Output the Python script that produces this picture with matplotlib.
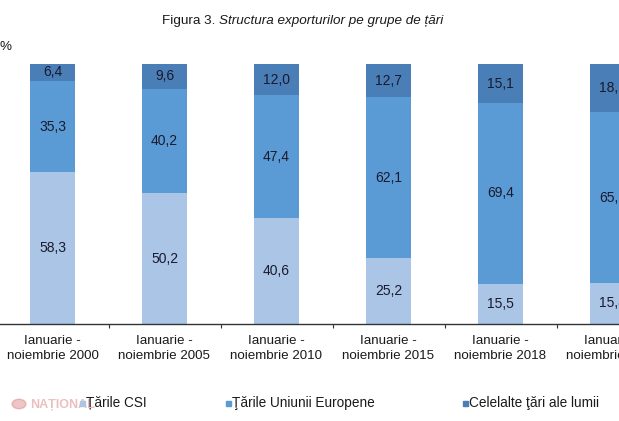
import matplotlib
matplotlib.use("Agg")
import matplotlib.pyplot as plt
from matplotlib.patches import Rectangle, Circle

plt.rcParams['font.family'] = ['Liberation Sans', 'DejaVu Sans']

categories = ["Ianuarie -\nnoiembrie 2000", "Ianuarie -\nnoiembrie 2005",
              "Ianuarie -\nnoiembrie 2010", "Ianuarie -\nnoiembrie 2015",
              "Ianuarie -\nnoiembrie 2018", "Ianuarie -\nnoiembrie 2019"]
csi = [58.3, 50.2, 40.6, 25.2, 15.5, 15.8]
ue = [35.3, 40.2, 47.4, 62.1, 69.4, 65.7]
other = [6.4, 9.6, 12.0, 12.7, 15.1, 18.5]
series_names = ["Țările CSI", "Ţările Uniunii Europene", "Celelalte ţări ale lumii"]
colors = ["#AAC5E6", "#5B9BD5", "#4A7EB6"]

W, H = 619, 421
fig = plt.figure(figsize=(W / 100, H / 100), dpi=100)
left_px = 52.5 - 0.5 * 112
ax = fig.add_axes([left_px / W, (H - 324) / H, 6 * 112 / W, (324 - 64) / H])

x = list(range(len(categories)))
bw = 0.4
bottoms = [0] * len(x)
for vals, col in zip([csi, ue, other], colors):
    ax.bar(x, vals, bw, bottom=bottoms, color=col, edgecolor='none')
    for xi, v, b in zip(x, vals, bottoms):
        ax.text(xi, b + v / 2, f"{v:.1f}".replace('.', ','), ha='center', va='center',
                fontsize=10, color='#1a1a2e')
    bottoms = [b + v for b, v in zip(bottoms, vals)]

ax.set_xlim(-0.5, 5.5)
ax.set_ylim(0, 100)
for s in ['top', 'right', 'left']:
    ax.spines[s].set_visible(False)
ax.spines['bottom'].set_color('#333333')
ax.spines['bottom'].set_linewidth(1.0)
ax.set_yticks([])
ax.set_xticks([i + 0.5 for i in range(5)])
ax.set_xticklabels([])
ax.tick_params(axis='x', length=3, width=0.8, color='#333333')
for xi, lab in zip(x, categories):
    fig.text((left_px + (xi + 0.5) * 112) / W, 1 - 335 / H, lab, ha='center', va='top',
             fontsize=9.6, color='#1a1a1a', linespacing=1.32)

# title
fig.canvas.draw()
r = fig.canvas.get_renderer()
t1 = fig.text(162 / W, 1 - 21 / H, "Figura 3. ", ha='left', va='center', fontsize=9.7, color='#1a1a1a')
bb = t1.get_window_extent(renderer=r)
fig.text(bb.x1 / W, 1 - 21 / H, "Structura exporturilor pe grupe de țări", ha='left', va='center',
         fontsize=9.7, style='italic', color='#1a1a1a')
fig.text(0 / W, 1 - 47 / H, "%", ha='left', va='center', fontsize=9.7, color='#1a1a1a')

# legend
leg = [(80, 86), (226, 232), (463, 469)]
for (mx, tx), name, col in zip(leg, series_names, colors):
    fig.patches.append(Rectangle((mx / W, 1 - 405.5 / H), 5 / W, 5 / H, transform=fig.transFigure,
                                 color=col, figure=fig))
    fig.text(tx / W, 1 - 403 / H, name, ha='left', va='center', fontsize=9.8, color='#1a1a1a')

# watermark
fig.text(30 / W, 1 - 405 / H, "NAȚIONAL", ha='left', va='center', fontsize=9, fontweight='bold',
         color='#d98080', alpha=0.5, zorder=0)
fig.patches.append(Circle((19 / W, 1 - 404 / H), 7 / W, transform=fig.transFigure,
                          color='#d98080', alpha=0.45, figure=fig))

fig.savefig("out.png", dpi=100)
